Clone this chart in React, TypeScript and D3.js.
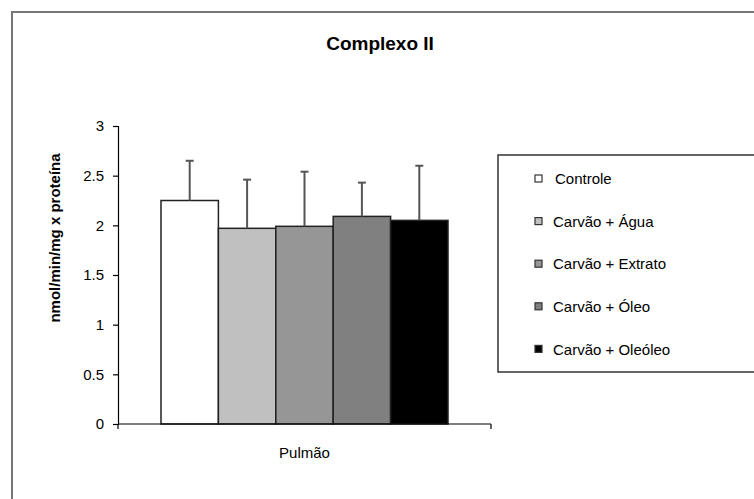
import React, { useEffect, useRef } from 'react';
import * as d3 from 'd3';

// values
const groups = ['Controle', 'Carvão + Água', 'Carvão + Extrato', 'Carvão + Óleo', 'Carvão + Oleóleo'];
const means = [2.25, 1.97, 1.99, 2.09, 2.05];
const errors = [0.40, 0.49, 0.55, 0.34, 0.55];
const fills = ['#ffffff', '#c0c0c0', '#969696', '#808080', '#000000'];
const yTicks = [0, 0.5, 1, 1.5, 2, 2.5, 3];
const category = 'Pulmão';

const App = () => {
  const svgRef = useRef<SVGSVGElement>(null);

  useEffect(() => {
    const width = 754;
    const height = 499;
    const svg = d3.select(svgRef.current);
    svg.selectAll('*').remove();
    svg.attr('width', width).attr('height', height);

    const font = 'Liberation Sans, Arial, sans-serif';

    // outer chart frame (cut off at right and bottom)
    svg.append('rect')
      .attr('x', 12).attr('y', 12)
      .attr('width', 800).attr('height', 520)
      .attr('fill', '#fff')
      .attr('stroke', '#777').attr('stroke-width', 2);

    // title
    svg.append('text')
      .attr('x', 380).attr('y', 50)
      .attr('text-anchor', 'middle')
      .style('font-family', font)
      .style('font-size', '19px')
      .style('font-weight', 'bold')
      .text('Complexo II');

    // scales
    const yScale = d3.scaleLinear().domain([0, 3]).range([424, 126]);
    const xOuter = d3.scaleBand().domain([category]).range([118, 491]);
    const inner = 287;
    const barStart = xOuter(category)! + (xOuter.bandwidth() - inner) / 2;
    const xScale = d3.scaleBand().domain(groups).range([barStart, barStart + inner]).padding(0);

    // y axis
    const yAxis = svg.append('g')
      .attr('transform', 'translate(118,0)')
      .call(d3.axisLeft(yScale).tickValues(yTicks).tickSize(5).tickPadding(9).tickFormat(d3.format('')));
    yAxis.select('.domain').attr('stroke', '#000').attr('stroke-width', 1.2);
    yAxis.selectAll('.tick line').attr('stroke', '#000').attr('stroke-width', 1.2);
    yAxis.selectAll('text')
      .attr('fill', '#000')
      .style('font-family', font)
      .style('font-size', '15px');

    // y axis label
    svg.append('text')
      .attr('transform', `translate(60, 238) rotate(-90)`)
      .attr('text-anchor', 'middle')
      .style('font-family', font)
      .style('font-size', '15px')
      .style('font-weight', 'bold')
      .text('nmol/min/mg x proteína');

    // bars
    svg.append('g')
      .selectAll('rect')
      .data(groups)
      .enter()
      .append('rect')
      .attr('x', d => xScale(d)!)
      .attr('y', (d, i) => yScale(means[i]))
      .attr('width', xScale.bandwidth())
      .attr('height', (d, i) => yScale(0) - yScale(means[i]))
      .attr('fill', (d, i) => fills[i])
      .attr('stroke', '#222')
      .attr('stroke-width', 1.5);

    // error bars (upper only)
    const err = svg.append('g').attr('stroke', '#555').attr('stroke-width', 2);
    groups.forEach((g, i) => {
      const cx = xScale(g)! + xScale.bandwidth() / 2;
      err.append('line')
        .attr('x1', cx).attr('x2', cx)
        .attr('y1', yScale(means[i])).attr('y2', yScale(means[i] + errors[i]));
      err.append('line')
        .attr('x1', cx - 4).attr('x2', cx + 4)
        .attr('y1', yScale(means[i] + errors[i])).attr('y2', yScale(means[i] + errors[i]));
    });

    // x axis
    const xAxis = svg.append('g')
      .attr('transform', `translate(0,${yScale(0)})`);
    xAxis.append('line')
      .attr('x1', 118).attr('x2', 491)
      .attr('stroke', '#000').attr('stroke-width', 1.2);
    [118, 491].forEach(x => {
      xAxis.append('line')
        .attr('x1', x).attr('x2', x).attr('y1', 0).attr('y2', 5)
        .attr('stroke', '#000').attr('stroke-width', 1.2);
    });
    svg.append('text')
      .attr('x', xOuter(category)! + xOuter.bandwidth() / 2)
      .attr('y', 458)
      .attr('text-anchor', 'middle')
      .style('font-family', font)
      .style('font-size', '15px')
      .text(category);

    // legend
    const legend = svg.append('g').attr('transform', 'translate(498,155)');
    legend.append('rect')
      .attr('width', 300).attr('height', 217)
      .attr('fill', '#fff')
      .attr('stroke', '#333').attr('stroke-width', 1.5);
    groups.forEach((g, i) => {
      const item = legend.append('g').attr('transform', `translate(0, ${24 + i * 42.6})`);
      item.append('rect')
        .attr('x', 37).attr('y', -4)
        .attr('width', 7).attr('height', 7)
        .attr('fill', fills[i])
        .attr('stroke', '#333').attr('stroke-width', 1.2);
      item.append('text')
        .attr('x', i === 0 ? 57 : 55)
        .attr('y', 0)
        .attr('dy', '0.35em')
        .style('font-family', font)
        .style('font-size', '15px')
        .text(g);
    });
  }, []);

  return (
    <div style={{ position: 'absolute', left: 0, top: 0 }}>
      <svg ref={svgRef} style={{ display: 'block' }}></svg>
    </div>
  );
};

export default App;
